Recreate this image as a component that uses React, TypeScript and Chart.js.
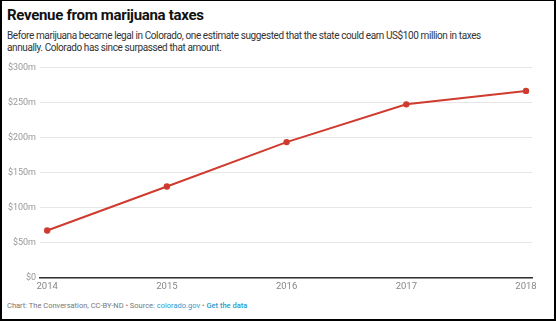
import React, { useEffect, useRef } from "react";
import { Chart, registerables } from "chart.js";

Chart.register(...registerables);

const years = [2014, 2015, 2016, 2017, 2018];
const revenue = [67.6, 130.4, 193.6, 247.4, 266.5];
const yTicks = [0, 50, 100, 150, 200, 250, 300];

const FONT = "Roboto, 'Noto Sans', sans-serif";

export default function App() {
  const ref = useRef<HTMLCanvasElement>(null);
  useEffect(() => {
    document.body.style.margin = "0";
    const ctx = ref.current!;
    const chart = new Chart(ctx, {
      type: "line",
      data: {
        datasets: [
          {
            data: years.map((y, i) => ({ x: y, y: revenue[i] })),
            borderColor: "#cf3b2e",
            backgroundColor: "#cf3b2e",
            borderWidth: 2,
            pointRadius: 2.2,
            pointHoverRadius: 2.2,
            tension: 0,
          },
        ],
      },
      options: {
        animation: false,
        responsive: false,
        maintainAspectRatio: false,
        layout: { padding: { top: 9, right: 20, bottom: 0, left: 0 } },
        plugins: { legend: { display: false }, tooltip: { enabled: false } },
        scales: {
          x: {
            type: "linear",
            min: 2013.94,
            max: 2018.05,
            afterBuildTicks: (s: any) => {
              s.ticks = years.map((v) => ({ value: v }));
            },
            afterFit: (s: any) => {
              s.height = 18;
            },
            grid: { display: false, drawTicks: false },
            border: { display: true, color: "#333", width: 1.5 },
            ticks: {
              color: "#888",
              font: { family: FONT, size: 9.5 },
              padding: 3,
              maxRotation: 0,
              autoSkip: false,
              callback: (v: any) => String(v),
            },
          },
          y: {
            min: 0,
            max: 300,
            afterBuildTicks: (s: any) => {
              s.ticks = yTicks.map((v) => ({ value: v }));
            },
            afterFit: (s: any) => {
              s.width = 38;
            },
            grid: { color: "#e6e6e6", lineWidth: 1, drawTicks: false },
            border: { display: false },
            ticks: {
              color: "#999",
              font: { family: FONT, size: 9 },
              padding: 4,
              callback: (v: any) => (v === 0 ? "$0" : "$" + v + "m"),
            },
          },
        },
      },
    });
    return () => chart.destroy();
  }, []);

  return (
    <div
      style={{
        position: "absolute",
        left: 0,
        top: 0,
        width: 556,
        height: 321,
        boxSizing: "border-box",
        border: "2px solid #000",
        borderTopWidth: 1,
        background: "#fff",
        fontFamily: FONT,
        overflow: "hidden",
      }}
    >
      <div
        style={{
          position: "absolute",
          left: 5,
          top: 5,
          fontSize: 15,
          letterSpacing: -0.3,
          fontWeight: 700,
          color: "#111",
          whiteSpace: "nowrap",
        }}
      >
        Revenue from marijuana taxes
      </div>
      <div
        style={{
          position: "absolute",
          left: 5,
          top: 29,
          width: 540,
          fontSize: 10,
          letterSpacing: -0.4,
          lineHeight: "12px",
          color: "#333",
        }}
      >
        Before marijuana became legal in Colorado, one estimate suggested that the state could earn US$100 million in taxes
        <br />
        annually. Colorado has since surpassed that amount.
      </div>
      <canvas
        ref={ref}
        width={550}
        height={238}
        style={{ position: "absolute", left: 0, top: 57, width: 550, height: 238 }}
      />
      <div
        style={{
          position: "absolute",
          left: 5,
          top: 300,
          fontSize: 7.5,
          color: "#777",
          whiteSpace: "nowrap",
        }}
      >
        Chart: The Conversation, CC-BY-ND • Source:{" "}
        <span style={{ color: "#2a9bd1" }}>colorado.gov</span> •{" "}
        <span style={{ color: "#2a9bd1", fontWeight: 500 }}>Get the data</span>
      </div>
    </div>
  );
}
